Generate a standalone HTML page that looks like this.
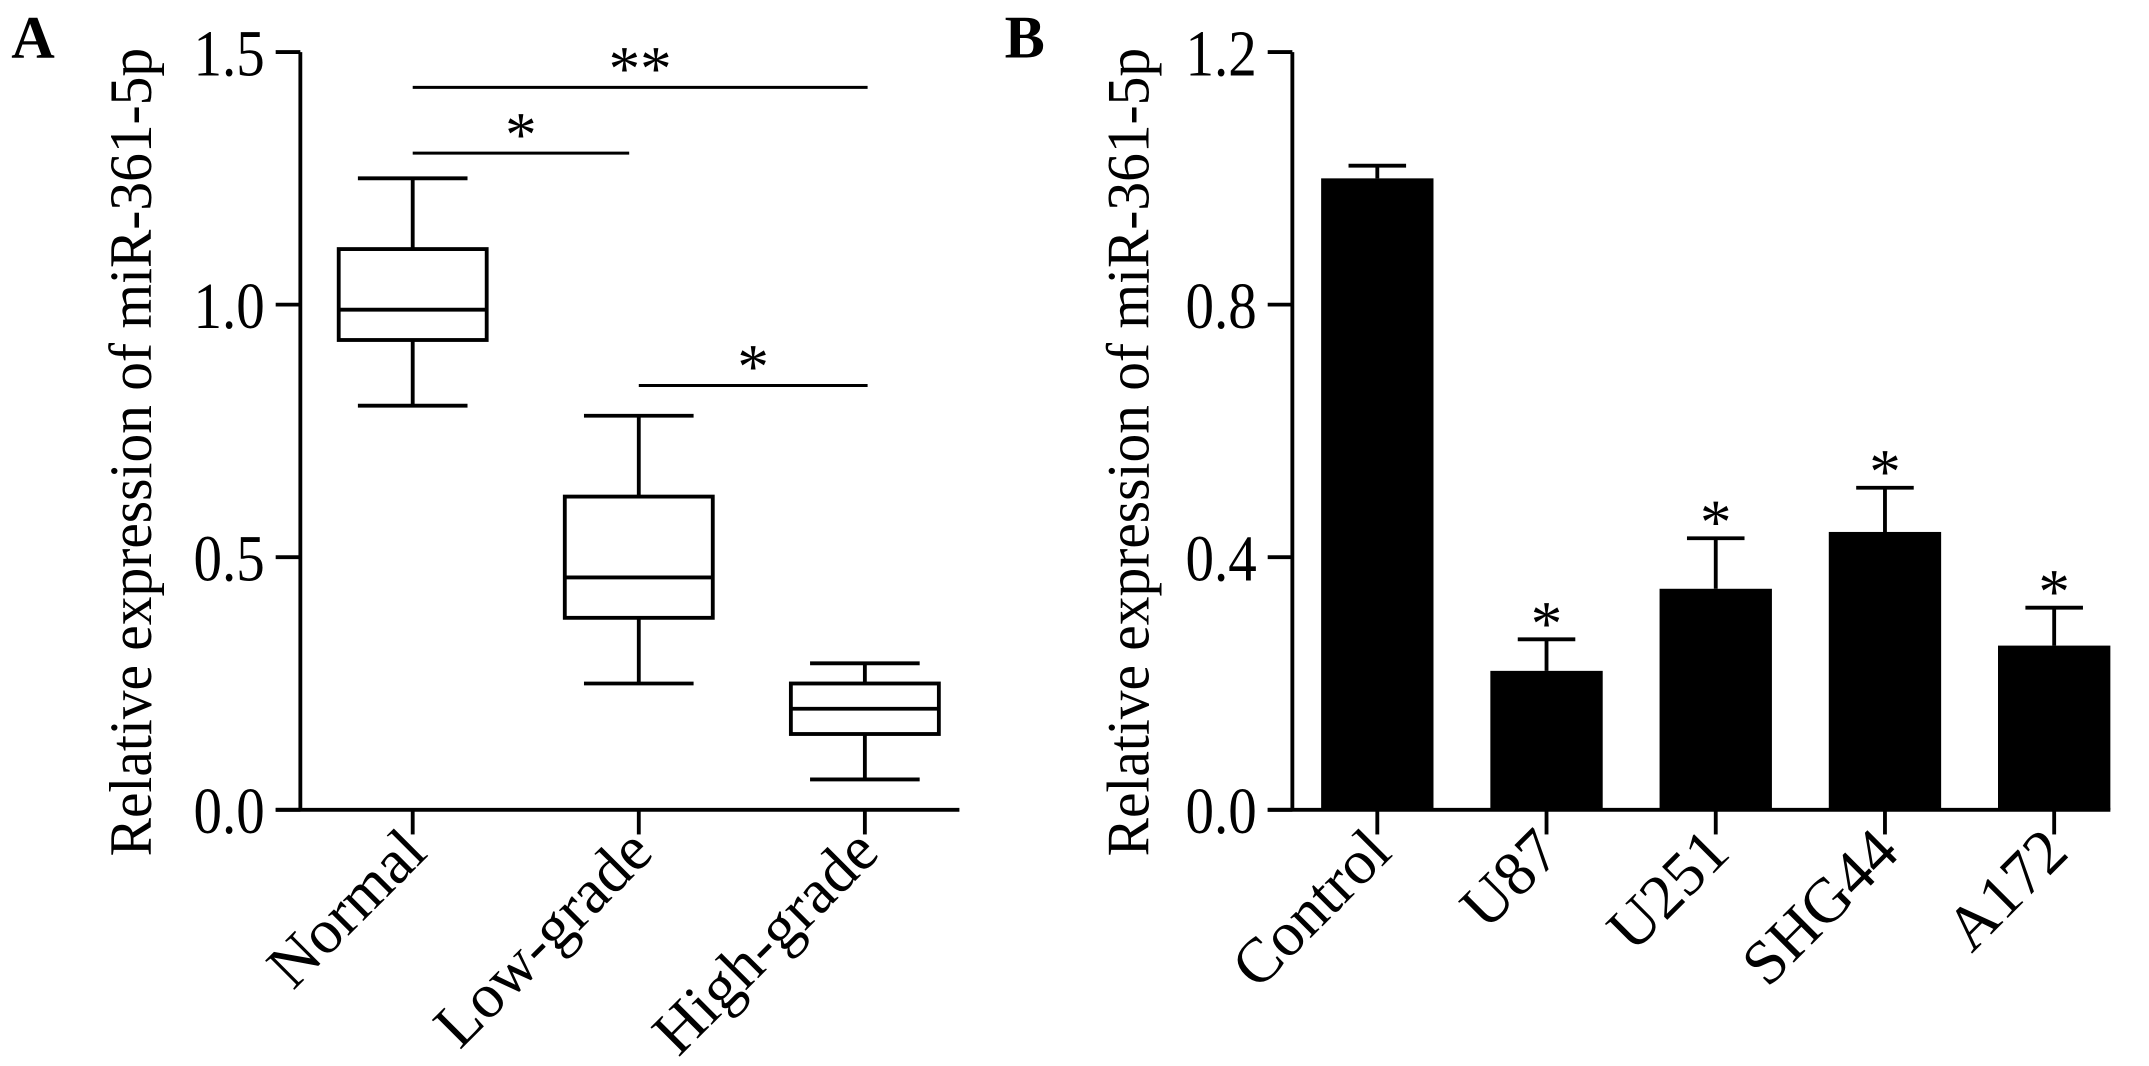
<!DOCTYPE html>
<html><head><meta charset="utf-8"><style>
html,body{margin:0;padding:0;background:#fff;}
svg{display:block;}
text{font-family:"Liberation Serif",serif;fill:#000;}
</style></head><body>
<svg id="fig" width="2149" height="1066" viewBox="0 0 1568 778" xmlns="http://www.w3.org/2000/svg">
<g id="panelA"></g>
<g id="panelB"></g>
</svg>
<script>
// Panel A data (box plots)
const aCategories = ["Normal", "Low-grade", "High-grade"];
const aMin = [0.80, 0.25, 0.06];
const aQ1 = [0.93, 0.38, 0.15];
const aMedian = [0.99, 0.46, 0.20];
const aQ3 = [1.11, 0.62, 0.25];
const aMax = [1.25, 0.78, 0.29];
const aTicks = [0, 0.5, 1.0, 1.5];
const aTickLabels = ["0.0", "0.5", "1.0", "1.5"];
const aSigFrom = [0, 0, 1];
const aSigTo = [2, 1, 2];
const aSigLevel = [1.43, 1.30, 0.84];
const aSigLabel = ["**", "*", "*"];
// Panel B data (bar chart)
const bCategories = ["Control", "U87", "U251", "SHG44", "A172"];
const bValues = [1.00, 0.22, 0.35, 0.44, 0.26];
const bErrors = [0.02, 0.05, 0.08, 0.07, 0.06];
const bStars = ["", "*", "*", "*", "*"];
const bTicks = [0, 0.4, 0.8, 1.2];
const bTickLabels = ["0.0", "0.4", "0.8", "1.2"];

const NS = "http://www.w3.org/2000/svg";
function mk(parent, tag, attrs, txt){
  const e = document.createElementNS(NS, tag);
  for (const k in attrs) e.setAttribute(k, attrs[k]);
  if (txt !== undefined) e.textContent = txt;
  parent.appendChild(e);
  return e;
}
const LW = 2.8;
const y0 = 591, yTop = 38;

// ---------- Panel A ----------
(function(){
  const g = document.getElementById('panelA');
  const ax = 219, xEnd = 700;
  const yA = v => y0 - (v / 1.5) * (y0 - yTop);
  const xA = i => 301 + i * 165;
  let t = mk(g, 'text', {x: 8, y: 42, 'font-size': 44, 'font-weight': 'bold'}, 'A');
  
  
  let l = mk(g, 'line', {x1: ax, y1: yTop, x2: ax, y2: y0, stroke: '#000', 'stroke-width': LW});
  
  
  l = mk(g, 'line', {x1: 201, y1: y0, x2: xEnd, y2: y0, stroke: '#000', 'stroke-width': LW});
  
  
  aTicks.forEach((v, i) => {
    const tk = mk(g, 'line', {x1: 201, y1: yA(v), x2: ax, y2: yA(v), stroke: '#000', 'stroke-width': LW});
    
    
    const tl = mk(g, 'text', {x: 193, y: yA(v) + 17, 'font-size': 48, 'text-anchor': 'end', textLength: 52, lengthAdjust: 'spacingAndGlyphs'}, aTickLabels[i]);
    
    
  });
  t = mk(g, 'text', {transform: 'translate(110,330) rotate(-90)', 'font-size': 44, 'text-anchor': 'middle', textLength: 590, lengthAdjust: 'spacingAndGlyphs'}, 'Relative expression of miR-361-5p');
  
  
  aCategories.forEach((c, i) => {
    const x = xA(i), hw = 54, cw = 40;
    const box = mk(g, 'g', {});
    
    
    const s = {stroke: '#000', 'stroke-width': LW, fill: 'none'};
    mk(box, 'rect', Object.assign({x: x - hw, y: yA(aQ3[i]), width: 2 * hw, height: yA(aQ1[i]) - yA(aQ3[i])}, s));
    mk(box, 'line', Object.assign({x1: x - hw, x2: x + hw, y1: yA(aMedian[i]), y2: yA(aMedian[i])}, s));
    mk(box, 'line', Object.assign({x1: x, x2: x, y1: yA(aQ3[i]), y2: yA(aMax[i])}, s));
    mk(box, 'line', Object.assign({x1: x, x2: x, y1: yA(aQ1[i]), y2: yA(aMin[i])}, s));
    mk(box, 'line', Object.assign({x1: x - cw, x2: x + cw, y1: yA(aMax[i]), y2: yA(aMax[i])}, s));
    mk(box, 'line', Object.assign({x1: x - cw, x2: x + cw, y1: yA(aMin[i]), y2: yA(aMin[i])}, s));
    const tk = mk(g, 'line', {x1: x, y1: y0, x2: x, y2: y0 + 18, stroke: '#000', 'stroke-width': LW});
    
    
    const tl = mk(g, 'text', {transform: `translate(${x + 12},${y0 + 33}) rotate(-45)`, 'font-size': 46, 'text-anchor': 'end'}, c);
    
    
  });
  aSigFrom.forEach((f, i) => {
    const x1 = xA(f), x2 = xA(aSigTo[i]) + (aSigTo[i] === 2 ? 2 : -7), y = yA(aSigLevel[i]);
    const sl = mk(g, 'line', {x1: x1, x2: x2, y1: y, y2: y, stroke: '#000', 'stroke-width': 2.2});
    
    
    const st = mk(g, 'text', {x: (x1 + x2) / 2, y: y + 2, 'font-size': 46, 'text-anchor': 'middle'}, aSigLabel[i]);
    
    
  });
})();

// ---------- Panel B ----------
(function(){
  const g = document.getElementById('panelB');
  const ax = 943, xEnd = 1540;
  const yB = v => y0 - (v / 1.2) * (y0 - yTop);
  const xB = i => 1005 + i * 123.5;
  let t = mk(g, 'text', {x: 733, y: 42, 'font-size': 44, 'font-weight': 'bold'}, 'B');
  
  
  let l = mk(g, 'line', {x1: ax, y1: yTop, x2: ax, y2: y0, stroke: '#000', 'stroke-width': LW});
  
  
  l = mk(g, 'line', {x1: 925, y1: y0, x2: xEnd, y2: y0, stroke: '#000', 'stroke-width': LW});
  
  
  bTicks.forEach((v, i) => {
    const tk = mk(g, 'line', {x1: 925, y1: yB(v), x2: ax, y2: yB(v), stroke: '#000', 'stroke-width': LW});
    
    
    const tl = mk(g, 'text', {x: 917, y: yB(v) + 17, 'font-size': 48, 'text-anchor': 'end', textLength: 52, lengthAdjust: 'spacingAndGlyphs'}, bTickLabels[i]);
    
    
  });
  t = mk(g, 'text', {transform: 'translate(838,330) rotate(-90)', 'font-size': 44, 'text-anchor': 'middle', textLength: 590, lengthAdjust: 'spacingAndGlyphs'}, 'Relative expression of miR-361-5p');
  
  
  bCategories.forEach((c, i) => {
    const x = xB(i), hw = 41, cw = 21;
    const bar = mk(g, 'rect', {x: x - hw, y: yB(bValues[i]), width: 2 * hw, height: y0 - yB(bValues[i]), fill: '#000'});
    
    
    const top = yB(bValues[i] + bErrors[i]);
    const eb = mk(g, 'path', {d: `M${x},${yB(bValues[i])}V${top}M${x - cw},${top}H${x + cw}`, stroke: '#000', 'stroke-width': LW, fill: 'none'});
    
    
    if (bStars[i]) {
      const st = mk(g, 'text', {x: x, y: top + 4, 'font-size': 46, 'text-anchor': 'middle'}, bStars[i]);
      
      
    }
    const tk = mk(g, 'line', {x1: x, y1: y0, x2: x, y2: y0 + 18, stroke: '#000', 'stroke-width': LW});
    
    
    const tl = mk(g, 'text', {transform: `translate(${x + 12},${y0 + 33}) rotate(-45)`, 'font-size': 46, 'text-anchor': 'end'}, c);
    
    
  });
})();
</script>
</body></html>
